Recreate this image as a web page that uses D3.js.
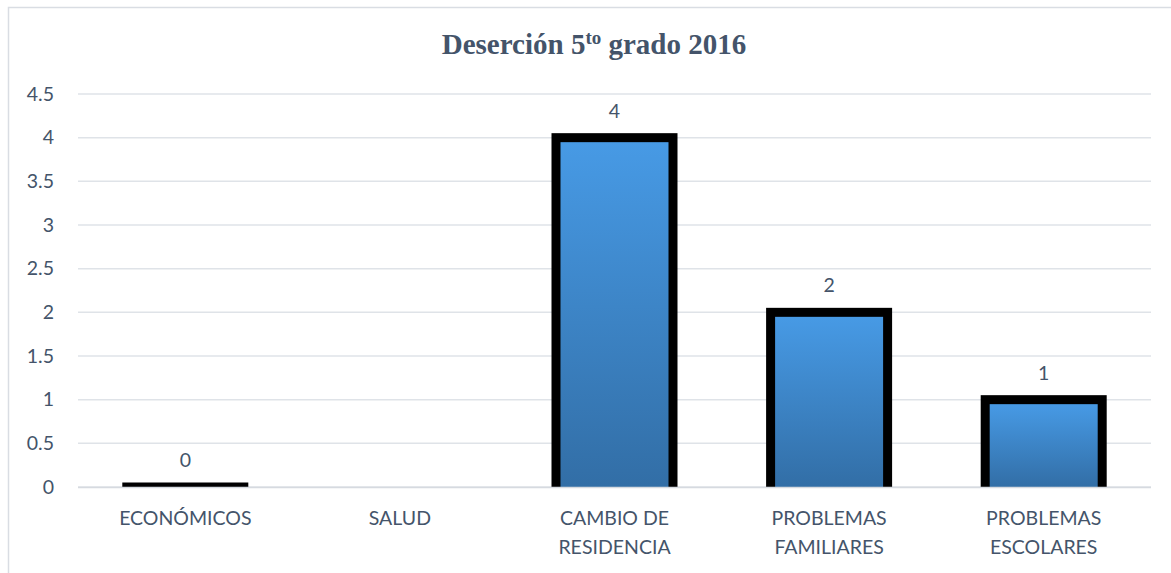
<!DOCTYPE html>
<html>
<head>
<meta charset="utf-8">
<script src="https://cdn.jsdelivr.net/npm/d3@7"></script>
<style>
  body { margin: 0; background: #fff; }
  text { font-family: Lato, "Open Sans", sans-serif; fill: #44546a; }
</style>
</head>
<body>
<div id="chart"></div>
<script>
var categories = [["ECONÓMICOS"], ["SALUD"], ["CAMBIO DE", "RESIDENCIA"], ["PROBLEMAS", "FAMILIARES"], ["PROBLEMAS", "ESCOLARES"]];
var values = [0, null, 4, 2, 1];
var yTicks = [0, 0.5, 1, 1.5, 2, 2.5, 3, 3.5, 4, 4.5];

var W = 1171, H = 573;
var margin = {top: 94, right: 20, bottom: 86, left: 78},
    width = 1151 - margin.left,
    height = 487 - margin.top;

var svg = d3.select("#chart").append("svg")
    .attr("width", W)
    .attr("height", H);

// chart border
svg.append("rect")
    .attr("x", 8.5).attr("y", 7.5)
    .attr("width", W + 10).attr("height", H + 10)
    .attr("fill", "none")
    .attr("stroke", "#d9dde3")
    .attr("stroke-width", 1.5);

var defs = svg.append("defs");
var grad = defs.append("linearGradient")
    .attr("id", "barGrad")
    .attr("x1", 0).attr("y1", 0).attr("x2", 0).attr("y2", 1);
grad.append("stop").attr("offset", "0%").attr("stop-color", "#479ae5");
grad.append("stop").attr("offset", "100%").attr("stop-color", "#326ea6");

var g = svg.append("g")
    .attr("transform", "translate(" + margin.left + "," + margin.top + ")");

var x = d3.scaleBand()
    .domain(d3.range(categories.length))
    .range([0, width]);

var y = d3.scaleLinear()
    .domain([0, 4.5])
    .range([height, 0]);

// gridlines
g.append("g")
    .selectAll("line")
    .data(yTicks)
    .enter()
    .append("line")
    .attr("x1", 0).attr("x2", width)
    .attr("y1", function (d) { return y(d); })
    .attr("y2", function (d) { return y(d); })
    .attr("stroke", "#dfe3e8")
    .attr("stroke-width", 1.5);

// y axis labels
var yAxis = g.append("g")
    .call(d3.axisLeft(y).tickValues(yTicks).tickSize(0).tickPadding(24).tickFormat(d3.format("~g")));
yAxis.select(".domain").remove();
yAxis.selectAll("text")
    .style("font-size", "19.5px")
    .attr("fill", "#44546a");

var barW = 117, border = 4.5;
var data = values.map(function (v, i) { return {i: i, v: v}; })
    .filter(function (d) { return d.v !== null; });

var bars = g.append("g")
    .selectAll("g")
    .data(data)
    .enter()
    .append("g");

// black outline (outer rect), cut at the baseline
bars.append("rect")
    .attr("x", function (d) { return x(d.i) + x.bandwidth() / 2 - barW / 2 - border; })
    .attr("y", function (d) { return y(d.v) - border; })
    .attr("width", barW + 2 * border)
    .attr("height", function (d) { return y(0) - y(d.v) + border; })
    .attr("fill", "#000");

// gradient fill
bars.append("rect")
    .attr("x", function (d) { return x(d.i) + x.bandwidth() / 2 - barW / 2 + border; })
    .attr("y", function (d) { return y(d.v) + border; })
    .attr("width", barW - 2 * border)
    .attr("height", function (d) { return Math.max(0, y(0) - y(d.v) - border); })
    .attr("fill", "url(#barGrad)");

// baseline
g.append("line")
    .attr("x1", 0).attr("x2", width)
    .attr("y1", y(0) + 0.5).attr("y2", y(0) + 0.5)
    .attr("stroke", "#d6dae0")
    .attr("stroke-width", 1.5);

// data labels
g.selectAll(".label")
    .data(data)
    .enter()
    .append("text")
    .attr("class", "label")
    .attr("x", function (d) { return x(d.i) + x.bandwidth() / 2; })
    .attr("y", function (d) { return y(d.v) - 20; })
    .attr("text-anchor", "middle")
    .style("font-size", "19.5px")
    .text(function (d) { return d.v; });

// category labels
var cat = g.selectAll(".cat")
    .data(categories)
    .enter()
    .append("text")
    .attr("class", "cat")
    .attr("text-anchor", "middle")
    .attr("transform", function (d, i) {
        return "translate(" + (x(i) + x.bandwidth() / 2) + "," + (height + 38) + ")";
    })
    .style("font-size", "19.5px");
cat.selectAll("tspan")
    .data(function (d) { return d; })
    .enter()
    .append("tspan")
    .attr("x", 0)
    .attr("dy", function (d, i) { return i === 0 ? 0 : 29; })
    .text(String);

// title
var title = svg.append("text")
    .attr("x", 594)
    .attr("y", 54)
    .attr("text-anchor", "middle")
    .style("font-family", "'Liberation Serif', 'Times New Roman', serif")
    .style("font-weight", "bold")
    .style("font-size", "29px")
    .attr("fill", "#44546a");
title.append("tspan").text("Deserción 5");
title.append("tspan").attr("dy", -10).style("font-size", "19px").text("to");
title.append("tspan").attr("dy", 10).text(" grado 2016");
</script>
</body>
</html>
